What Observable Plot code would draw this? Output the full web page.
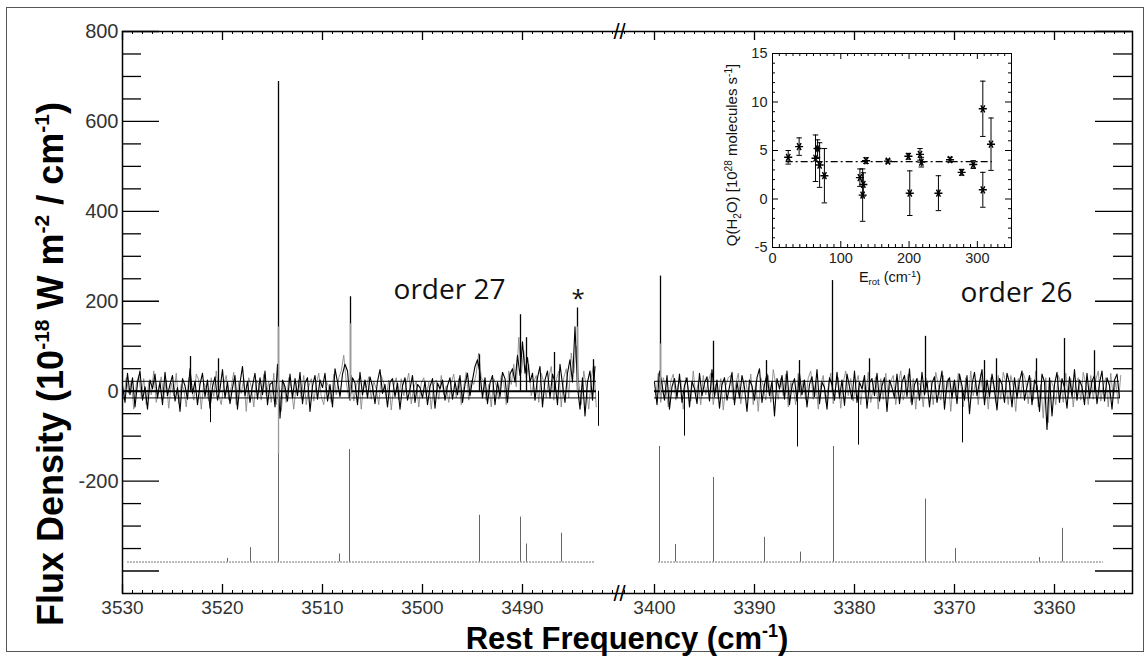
<!DOCTYPE html>
<html><head><meta charset="utf-8">
<script src="https://cdn.jsdelivr.net/npm/d3@7"></script>
<script src="https://cdn.jsdelivr.net/npm/@observablehq/plot@0.6"></script>
<style>
html,body{margin:0;padding:0;background:#fff;}
#wrap{position:relative;width:1148px;height:657px;overflow:hidden;background:#fff;}
#frame{position:absolute;left:6px;top:7px;width:1138px;height:645px;border:1px solid #555;box-sizing:border-box;}
#main{position:absolute;left:0;top:0;}
#inset{position:absolute;left:700px;top:40px;}
</style></head><body>
<div id="wrap"><div id="frame"></div><div id="main"></div><div id="inset"></div></div>
<script>
// ---------------- DATA ----------------
const sampleStep = 0.25;
const order27Start = 3530;
const order26Start = 3400;
const order27Flux = [
 12,-25,40,-8,30,-35,18,45,-20,10,
 -40,25,5,38,-15,20,-30,42,-10,15,
 35,-22,8,-45,28,12,-18,50,-5,22,
 -30,15,40,-12,25,-38,10,32,-20,5,
 48,-15,20,-28,8,35,-40,18,55,-10,
 22,-25,12,40,-18,30,-8,45,-30,15,
 20,-35,60,-60,25,10,-22,38,-15,28,
 -10,42,-28,18,30,-45,12,35,-18,25,
 8,40,-22,15,-35,50,20,-12,38,60,
 45,-20,30,18,-30,42,-8,25,-15,32,
 10,-28,22,48,-5,15,-35,20,28,-12,
 18,-40,12,30,-20,5,35,-25,15,8,
 -15,22,-30,10,28,-38,18,5,25,-20,
 12,30,-18,20,-8,35,-25,15,40,-10,
 25,55,70,40,-15,30,-28,18,35,-30,
 20,-12,42,28,-25,38,50,20,80,35,
 110,40,75,20,40,-20,30,55,-35,25,
 45,-15,38,20,-30,60,15,-25,40,70,
 20,143,10,-40,30,-55,20,45,-20,55
];
// second (grey) trace, sampled half a step later
const order27Alt = [
 -18,30,-5,22,-40,15,35,-12,28,-30,
 20,-8,45,-25,10,32,-15,25,-38,18,
 -10,40,-28,15,5,-35,30,12,-20,38,
 25,-40,18,8,-22,30,-12,45,-8,-30,
 15,35,-20,10,42,-30,20,-5,28,-45,
 30,10,-35,25,15,-20,38,-10,22,-25,
 40,-30,20,-45,18,-25,30,8,-40,15,
 25,-15,35,-30,10,28,-22,15,40,-12,
 -30,22,10,-25,38,-8,30,45,80,20,
 -15,35,-22,12,28,-40,20,8,32,-18,
 22,5,-30,35,18,-15,25,-42,12,30,
 -20,28,-10,15,40,-28,8,22,-35,18,
 30,-12,20,-40,15,25,-18,35,-8,12,
 -25,18,38,-15,28,-30,10,42,-20,25,
 15,40,85,30,22,-20,15,-35,28,12,
 -18,35,20,-30,45,15,60,10,120,40,
 90,30,60,-10,20,35,-25,40,20,-15,
 30,55,-20,25,45,-35,30,50,-15,85,
 40,100,20,-30,45,10,-40,30,60,-35
];
const order26Flux = [
 20,-30,45,15,-20,35,-40,10,28,-15,
 38,-25,12,30,-35,22,5,-28,40,-10,
 18,32,-22,48,-12,25,-38,15,30,-20,
 10,42,-30,20,-15,35,8,-45,25,12,
 -20,30,50,-25,15,38,-10,22,-55,28,
 5,35,-18,45,-30,12,28,-22,40,-8,
 25,-35,15,32,-12,48,-28,20,8,-40,
 30,15,-20,42,-15,25,-32,38,10,-18,
 45,-25,20,5,35,-38,18,28,-10,40,
 -22,12,30,-45,25,8,-15,38,-28,20,
 35,-12,50,-30,15,28,-20,42,-8,22,
 -35,18,32,-25,10,45,-40,20,30,-15,
 25,-28,38,12,-20,35,-50,15,42,-10,
 20,48,-30,25,-12,38,5,-42,28,15,
 -25,40,18,-35,30,-15,22,45,-20,10,
 35,-30,25,12,-45,38,20,-85,30,-55,
 15,42,-25,28,8,-38,32,-12,48,-20,
 25,10,-30,40,-15,22,35,-28,18,45,
 -22,30,12,-40,25,38,-15
];
const order26Alt = [
 -15,40,-25,30,10,-35,22,38,-20,15,
 25,-40,30,8,-22,45,-12,20,-30,35,
 -8,22,40,-30,15,-18,28,-42,12,30,
 35,-20,15,40,-28,10,25,-15,38,-30,
 20,-45,30,12,-20,35,-25,48,15,-18,
 28,-10,38,-35,20,5,-30,40,-12,25,
 -20,30,45,-18,22,-40,15,35,-25,10,
 40,-28,12,30,-38,20,45,-10,28,-22,
 15,35,-30,25,-15,42,-25,10,32,-40,
 28,-18,40,-12,22,35,-30,15,45,-20,
 10,38,-25,28,-40,20,12,-35,30,18,
 25,-30,42,15,-20,35,-15,28,-45,22,
 -12,40,18,-35,30,-22,45,-10,25,-30,
 38,-15,22,-40,30,15,-25,35,-18,42,
 20,-30,35,12,-45,28,-15,40,22,-28,
 30,-20,45,-35,15,-60,30,-70,25,10,
 -30,35,20,-25,40,-15,28,-35,18,30,
 -20,42,15,-30,35,-18,25,45,-22,12,
 30,-35,40,-15,20,-28,35
];
// narrow emission lines in observed spectrum
const spikeFreq = [3523.2,3520.4,3514.4,3507.2,3494.3,3490.2,3489.6,3486.8,3484.5,3482.9,
                   3399.4,3394.1,3388.8,3385.5,3382.2,3378.5,3372.9,3367.0,3365.8,3361.8,3359.0,3356.0];
const spikePeak = [77,72,689,210,81,170,119,86,185,70,
                   256,111,68,68,246,72,122,68,72,72,117,90];
const dipFreq  = [3521.2,3482.4,3397.0,3385.7,3379.6,3369.2];
const dipDepth = [-70,-78,-100,-124,-120,-115];
// grey overlay strokes
const greyFreq = [3514.4,3507.2,3484.5,3399.4];
const greyLow  = [-140,-20,0,-10];
const greyHigh = [143,150,143,105];
// horizontal reference levels
const levelValues = [22,0,-15];
const orderFrom = [3530,3400];
const orderTo   = [3482.6,3353.5];
// offset model spectrum
const modelBase = -380;
const modelFrom = [3529.5,3399.6];
const modelTo   = [3482.7,3355.1];
const modelFreq   = [3519.5,3517.2,3514.4,3508.3,3507.3,3494.3,3490.2,3489.6,3486.1,
                     3399.5,3397.9,3394.1,3389.0,3385.4,3382.1,3372.9,3369.9,3361.5,3359.2];
const modelHeight = [8,32,520,18,250,104,100,40,64,
                     257,39,188,55,22,257,140,30,10,75];
// axes (broken frequency axis)
const xLeftRange  = [3530, 3480.4];
const xRightRange = [3403.4, 3352.2];
const xTickLabels = [3530,3520,3510,3500,3490,3400,3390,3380,3370,3360];
const yTickLabels = [800,600,400,200,0,-200];
const yMajorTicks = [800,600,400,200,0,-200,-400];
const yMinorTicks = [750,700,650,550,500,450,350,300,250,150,100,50,-50,-100,-150,-250,-300,-350];
const annText = ["order 27","order 26","*"];
const annFreq = [3497.3,3363.8,3484.45];
const annFlux = [226,219,204];
// inset
const eRot = [23,39,63,66,69,76,128,132,133,137,169,199,201,216,218,243,260,277,294,308,308,320];
const qH2O = [4.3,5.4,4.2,5.2,3.5,2.4,2.2,0.4,1.5,3.95,3.9,4.4,0.6,4.6,3.8,0.6,4.05,2.75,3.55,9.3,0.95,5.65];
const qErr = [0.7,0.9,2.4,0.9,2.3,2.8,0.9,2.7,1.2,0.3,0.2,0.3,2.3,0.6,0.5,1.8,0.25,0.3,0.4,2.85,1.8,2.7];
const qMean = 3.85, qMeanFrom = 20, qMeanTo = 322;
const insetXTicks = [0,100,200,300];
const insetYTicks = [15,10,5,0,-5];

// ---------------- BUILD ----------------
const FONT = "Liberation Sans, Arial, Helvetica, sans-serif";
// continuous coordinate for the broken axis: right segment is shifted next to the left one
const gapUnits = 0.2;
const shift = xLeftRange[1] - xRightRange[0] - gapUnits;
const brk = f => (f < (xLeftRange[1] + xRightRange[0]) / 2 ? f + shift : f);

const obs27 = order27Flux.map((v,i)=>({f: order27Start - i*sampleStep, v}));
const obs26 = order26Flux.map((v,i)=>({f: order26Start - i*sampleStep, v}));
const alt27 = order27Alt.map((v,i)=>({f: order27Start - (i+0.5)*sampleStep, v}));
const alt26 = order26Alt.map((v,i)=>({f: order26Start - (i+0.5)*sampleStep, v}));
const spikes = spikeFreq.map((f,i)=>({f, v: spikePeak[i]}));
const dips = dipFreq.map((f,i)=>({f, v: dipDepth[i]}));
const greys = greyFreq.map((f,i)=>({f, lo: greyLow[i], hi: greyHigh[i]}));
const levels = [];
orderFrom.forEach((a,k)=>levelValues.forEach((y,j)=>levels.push({a, b: orderTo[k], y, j})));
const modelSeg = modelFrom.map((a,k)=>({a, b: modelTo[k]}));
const model = modelFreq.map((f,i)=>({f, h: modelHeight[i]}));
const ann = annText.map((t,i)=>({t, f: annFreq[i], v: annFlux[i]}));
const minorX = d3.range(3529, 3480, -1).concat(d3.range(3403, 3352, -1)).filter(d=>!xTickLabels.includes(d));
const bx = d => brk(d.f);

const W = 1148, H = 657, mL = 122, mR = 16, mT = 31, mB = 64;
const pw = W - mL - mR, ph = H - mT - mB;

const mainPlot = Plot.plot({
  width: W, height: H, marginLeft: mL, marginRight: mR, marginTop: mT, marginBottom: mB,
  style: {background: "transparent", fontFamily: FONT},
  x: {domain: [brk(xLeftRange[0]), brk(xRightRange[1])], axis: null},
  y: {domain: [-450, 800], axis: null},
  marks: [
    // model baseline
    Plot.ruleY(modelSeg, {y: modelBase, x1: d=>brk(d.a), x2: d=>brk(d.b), stroke: "#777", strokeWidth: 1, strokeDasharray: "2,1"}),
    Plot.ruleX(model, {x: bx, y1: modelBase, y2: d=>modelBase + d.h, stroke: "#666", strokeWidth: 1}),
    // observed spectrum
    Plot.line(alt27, {x: bx, y: "v", stroke: "#8a8a8a", strokeWidth: 0.9}),
    Plot.line(alt26, {x: bx, y: "v", stroke: "#8a8a8a", strokeWidth: 0.9}),
    Plot.ruleY(levels, {y: "y", x1: d=>brk(d.a), x2: d=>brk(d.b), stroke: "#000", strokeWidth: d=>d.j===1?2:1}),
    Plot.line(obs27, {x: bx, y: "v", stroke: "#000", strokeWidth: 1.1}),
    Plot.line(obs26, {x: bx, y: "v", stroke: "#000", strokeWidth: 1.1}),
    Plot.ruleX(spikes, {x: bx, y1: 0, y2: "v", stroke: "#000", strokeWidth: 1.3}),
    Plot.ruleX(dips, {x: bx, y1: 0, y2: "v", stroke: "#000", strokeWidth: 1}),
    Plot.ruleX(greys, {x: bx, y1: "lo", y2: "hi", stroke: "#999", strokeWidth: 1.3}),
    // frame
    Plot.frame({stroke: "#000", strokeWidth: 1.5}),
    // y ticks left & right
    Plot.tickY(yMajorTicks, {y: d=>d, insetRight: pw - 37, stroke: "#000", strokeWidth: 1.3}),
    Plot.tickY(yMinorTicks, {y: d=>d, insetRight: pw - 19, stroke: "#000", strokeWidth: 1.3}),
    Plot.tickY(yMajorTicks, {y: d=>d, insetLeft: pw - 37, stroke: "#000", strokeWidth: 1.3}),
    Plot.tickY(yMinorTicks, {y: d=>d, insetLeft: pw - 19, stroke: "#000", strokeWidth: 1.3}),
    // x ticks top & bottom
    Plot.tickX(xTickLabels, {x: d=>brk(d), insetTop: ph - 9, stroke: "#000", strokeWidth: 1.3}),
    Plot.tickX(xTickLabels, {x: d=>brk(d), insetBottom: ph - 9, stroke: "#000", strokeWidth: 1.3}),
    Plot.tickX(minorX, {x: d=>brk(d), insetTop: ph - 3, stroke: "#000", strokeWidth: 1}),
    Plot.tickX(minorX, {x: d=>brk(d), insetBottom: ph - 3, stroke: "#000", strokeWidth: 1}),
    // break marks
    Plot.text(["//"], {x: () => xLeftRange[1], frameAnchor: "top", lineAnchor: "middle", dx: 1, fontSize: 22, fill: "#000", fontFamily: FONT}),
    Plot.text(["//"], {x: () => xLeftRange[1], frameAnchor: "bottom", lineAnchor: "middle", dx: 1, fontSize: 22, fill: "#000", fontFamily: FONT}),
    // tick labels
    Plot.text(yTickLabels, {y: d=>d, text: d=>String(d), frameAnchor: "left", textAnchor: "end", dx: -4, fontSize: 20, fill: "#333", fontFamily: FONT}),
    Plot.text(xTickLabels, {x: d=>brk(d), text: d=>String(d), frameAnchor: "bottom", lineAnchor: "middle", dy: 14, fontSize: 19, fill: "#333", fontFamily: FONT}),
    // annotations
    Plot.text(ann, {x: bx, y: "v", text: "t", fontSize: d=>d.t==="*"?24:28, fontFamily: "Open Sans, sans-serif", fill: "#111", lineAnchor: "middle"})
  ]
});
document.getElementById("main").appendChild(mainPlot);

// axis titles with superscripts
const msvg = d3.select(mainPlot);
function supText(sel, parts, size, supSize) {
  parts.forEach(p => {
    if (p.sup) {
      sel.append("tspan").attr("dy", -size*0.38).attr("font-size", supSize).text(p.t);
    } else {
      const ts = sel.append("tspan").text(p.t);
      if (p.after) ts.attr("dy", size*0.38);
    }
  });
}
const yTitle = msvg.append("text")
  .attr("transform", "translate(63,364) rotate(-90)")
  .attr("text-anchor", "middle").attr("font-family", FONT).attr("font-weight", "bold")
  .attr("font-size", 36).attr("fill", "#000");
supText(yTitle, [{t:"Flux Density (10"},{t:"-18",sup:true},{t:" W m",after:true},{t:"-2",sup:true},{t:" / cm",after:true},{t:"-1",sup:true},{t:")",after:true}], 36, 21);
const xTitle = msvg.append("text")
  .attr("x", 627).attr("y", 649)
  .attr("text-anchor", "middle").attr("font-family", FONT).attr("font-weight", "bold")
  .attr("font-size", 31).attr("fill", "#000");
supText(xTitle, [{t:"Rest Frequency (cm"},{t:"-1",sup:true},{t:")",after:true}], 31, 18);

// ---------------- INSET ----------------
const pts = eRot.map((e,i)=>({e, q: qH2O[i], s: qErr[i]}));
const iW = 320, iH = 250, iL = 72, iT = 13, iR = 9, iB = 43;
const ipw = iW - iL - iR, iph = iH - iT - iB;
const insetMinorY = d3.range(-5, 16, 1).filter(d=>d%5!==0);
const insetMinorX = d3.range(10, 350, 10).filter(d=>d%100!==0);
const insetPlot = Plot.plot({
  width: iW, height: iH, marginLeft: iL, marginRight: iR, marginTop: iT, marginBottom: iB,
  style: {background: "transparent", fontFamily: FONT},
  x: {domain: [0, 350], axis: null},
  y: {domain: [-5, 15], axis: null},
  marks: [
    Plot.frame({stroke: "#000", strokeWidth: 1}),
    Plot.tickY(insetYTicks, {y: d=>d, insetRight: ipw - 6, stroke: "#000"}),
    Plot.tickY(insetYTicks, {y: d=>d, insetLeft: ipw - 6, stroke: "#000"}),
    Plot.tickY(insetMinorY, {y: d=>d, insetRight: ipw - 3, stroke: "#000"}),
    Plot.tickY(insetMinorY, {y: d=>d, insetLeft: ipw - 3, stroke: "#000"}),
    Plot.tickX(insetXTicks, {x: d=>d, insetTop: iph - 6, stroke: "#000"}),
    Plot.tickX(insetXTicks, {x: d=>d, insetBottom: iph - 6, stroke: "#000"}),
    Plot.tickX(insetMinorX, {x: d=>d, insetTop: iph - 3, stroke: "#000"}),
    Plot.tickX(insetMinorX, {x: d=>d, insetBottom: iph - 3, stroke: "#000"}),
    Plot.ruleY([qMean], {y: d=>d, x1: qMeanFrom, x2: qMeanTo, stroke: "#000", strokeWidth: 1.2, strokeDasharray: "7,3,2,3"}),
    Plot.ruleX(pts, {x: "e", y1: d=>d.q - d.s, y2: d=>d.q + d.s, stroke: "#000", strokeWidth: 1}),
    Plot.link(pts, {x1: d=>d.e - 4, x2: d=>d.e + 4, y1: d=>d.q + d.s, y2: d=>d.q + d.s, stroke: "#000", strokeWidth: 1}),
    Plot.link(pts, {x1: d=>d.e - 4, x2: d=>d.e + 4, y1: d=>d.q - d.s, y2: d=>d.q - d.s, stroke: "#000", strokeWidth: 1}),
    Plot.dot(pts, {x: "e", y: "q", symbol: "asterisk", r: 3.8, rotate: 90, stroke: "#000", strokeWidth: 1.4}),
    Plot.text(insetYTicks, {y: d=>d, text: d=>String(d), frameAnchor: "left", textAnchor: "end", dx: -5, fontSize: 14.5, fill: "#222", fontFamily: FONT}),
    Plot.text(insetXTicks, {x: d=>d, text: d=>String(d), frameAnchor: "bottom", lineAnchor: "middle", dy: 11, fontSize: 14.5, fill: "#222", fontFamily: FONT})
  ]
});
document.getElementById("inset").appendChild(insetPlot);
const isvg = d3.select(insetPlot);
const qt = isvg.append("text")
  .attr("transform", `translate(37,${iT + iph/2 + 5}) rotate(-90)`)
  .attr("text-anchor", "middle").attr("font-family", FONT).attr("font-size", 15).attr("fill", "#111");
qt.append("tspan").text("Q(H");
qt.append("tspan").attr("dy", 4).attr("font-size", 10).text("2");
qt.append("tspan").attr("dy", -4).text("O) [10");
qt.append("tspan").attr("dy", -5).attr("font-size", 10).text("28");
qt.append("tspan").attr("dy", 5).text(" molecules s");
qt.append("tspan").attr("dy", -5).attr("font-size", 10).text("-1");
qt.append("tspan").attr("dy", 5).text("]");
const et = isvg.append("text")
  .attr("x", iL + 118).attr("y", iT + iph + 35)
  .attr("text-anchor", "middle").attr("font-family", FONT).attr("font-size", 14.5).attr("fill", "#111");
et.append("tspan").text("E");
et.append("tspan").attr("dy", 3).attr("font-size", 9.5).text("rot");
et.append("tspan").attr("dy", -3).text(" (cm");
et.append("tspan").attr("dy", -5).attr("font-size", 9.5).text("-1");
et.append("tspan").attr("dy", 5).text(")");
</script></body></html>
